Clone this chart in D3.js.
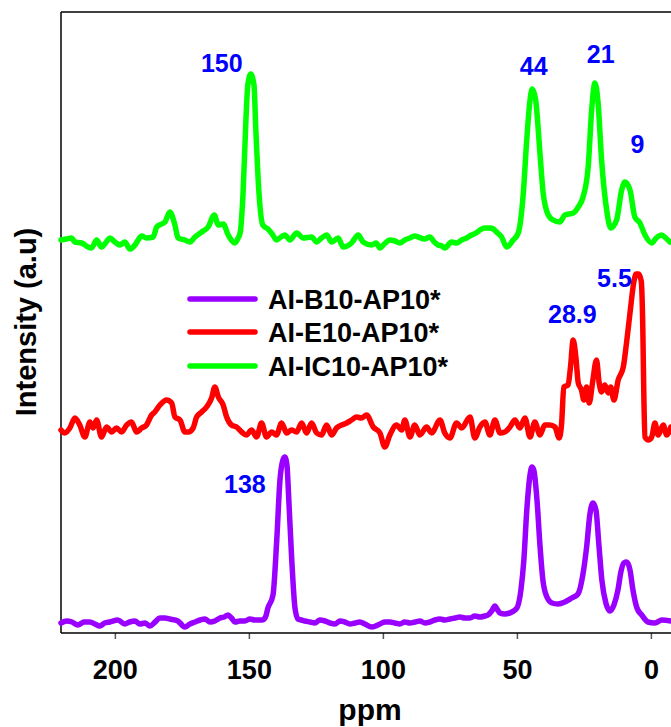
<!DOCTYPE html>
<html>
<head>
<meta charset="utf-8">
<script src="https://cdn.jsdelivr.net/npm/d3@7"></script>
<style>
body { margin: 0; background: #fff; }
text { font-family: Arial, "Liberation Sans", sans-serif; font-weight: bold; }
</style>
</head>
<body>
<svg id="chart" width="671" height="727"></svg>
<script>
// series: [ppm, intensity above own baseline]
var seriesNames = ["AI-B10-AP10*", "AI-E10-AP10*", "AI-IC10-AP10*"];
var seriesColors = ["#9900ff", "#ff0000", "#00ff00"];
var seriesOffsets = [10, 202, 393];

var specB = [[220.1,0],[218,2],[216,1],[213.8,-2],[211.5,1],[209.3,1],[207.5,-1],[205.6,-3],[203.8,0],[201.9,1],[198.9,3],[196.3,-1],[194.5,1],[192.5,2],[190.7,-1],[188.8,0],[186.9,-3],[185,1],[183.2,5],[181.3,5],[179.5,4],[176.5,2],[173.9,-4],[172,-1],[170.1,1],[168.2,3],[166.4,4],[164.5,1],[162.7,2],[160.8,5],[159.2,6],[157.8,8],[156.5,5],[155.2,1],[153.4,2],[151.5,2],[149.6,4],[147.8,3],[145.1,3],[143.8,6],[142.9,15],[141,28],[139.6,83],[138.4,143],[137.3,163],[136.6,166],[135.8,158],[135.1,123],[134,63],[132.8,15],[131.7,4],[130.4,3],[129.1,2],[127.2,1],[125.4,0],[123.5,3],[121.6,2],[119.7,0],[117.9,-1],[116,2],[114.2,1],[112.3,-1],[110.4,0],[108.6,1],[106.7,-1],[104.1,-4],[101.1,-1],[99.2,1],[97.4,1],[95.5,0],[93.7,-1],[91.8,1],[89.9,0],[88,1],[86.2,2],[84.3,0],[82.5,1],[80.6,3],[78.7,4],[76.9,3],[75,4],[73.1,5],[71.3,6],[69.4,5],[67.5,5],[65.7,7],[63.8,6],[62,7],[60.8,8],[59.4,12],[58.2,17],[57.2,13],[56.3,10],[54.5,9],[51.9,11],[50,15],[48.5,33],[47.4,63],[46.3,113],[45.1,148],[44.4,156],[43.7,153],[42.5,123],[41.4,78],[40.3,43],[38.8,26],[36.9,20],[34.7,19],[32.1,21],[29.5,25],[27.2,29],[25.4,48],[23.9,78],[22.8,108],[21.6,120],[20.5,113],[19.4,78],[18.3,43],[16.8,20],[15.3,12],[13.8,18],[12.3,33],[11.2,51],[10.1,60],[9,61],[7.8,53],[6.7,33],[5.2,15],[3.4,8],[1.1,1],[-1.5,0],[-4.1,3],[-7.5,2]];

var specE = [[220.1,1],[218.7,-2],[216.8,3],[214.9,13],[213.1,6],[211.2,-6],[209.3,9],[208.1,3],[206.8,11],[205,-6],[203.1,4],[201.2,-1],[199.4,3],[197.5,-1],[195.6,6],[193.8,9],[191.9,-1],[190,3],[188.2,6],[186.3,16],[185.1,19],[183.2,26],[180.7,31],[178.8,28],[177.6,14],[175.7,11],[173.9,-1],[172.6,-1],[170.8,3],[169.5,14],[167.6,19],[165.8,24],[163.9,33],[162.7,44],[161.4,34],[159.6,26],[158.3,14],[156.5,6],[154.6,4],[152.7,-1],[150.9,-4],[149,1],[147.1,-6],[145.3,8],[143.4,-6],[141.5,-1],[139.7,-4],[137.8,8],[135.9,-2],[134.1,1],[132.2,-1],[130.3,8],[128.5,-2],[126.6,8],[124.7,-2],[122.9,-4],[121,6],[119.1,-4],[117.3,3],[115.4,6],[113.5,8],[111.7,11],[109.8,14],[108,13],[106.1,16],[103.6,4],[101.1,-2],[99.3,-16],[97.4,-4],[94.9,6],[93,1],[91.8,11],[89.9,-6],[88.1,6],[86.2,-4],[83.7,4],[81.8,-2],[78.7,11],[76.9,-2],[75,-7],[72.5,8],[70.6,3],[67.5,14],[65.7,-7],[63.8,4],[61.9,9],[60.1,-4],[58.2,11],[56.3,-2],[54.5,-1],[52.6,4],[50.7,11],[48.9,3],[47,13],[45.1,-6],[43.3,9],[41.4,-4],[39.6,6],[37.7,6],[35.8,4],[34.2,-7],[33.3,8],[32.5,44],[30.9,46],[30,64],[29,91],[28,74],[27.1,48],[25.9,41],[25,31],[24,44],[23,28],[21.8,48],[20.3,71],[19.3,48],[18.4,39],[17.2,46],[15.9,38],[15,44],[13.8,31],[12.2,51],[10.3,64],[9.1,88],[7.8,118],[6.3,150],[5.5,157],[4.6,157],[3.6,150],[3,100],[2.6,30],[2.2,-6],[1,-9],[-0.3,-6],[-1.5,8],[-2.7,-4],[-4.6,6],[-5.9,-4],[-7.4,4]];

var specIC = [[220.1,0],[218.2,1],[216.2,2],[214.9,-2],[212.4,-3],[210,-7],[208.7,-8],[206.8,0],[205,-7],[203.2,-2],[201.9,2],[200,-2],[198.1,-5],[196.3,-2],[194.4,-9],[192.5,-5],[190,4],[188.2,2],[185.7,3],[184.4,13],[182.6,16],[181.3,18],[179.5,28],[177.6,15],[176.4,2],[173.9,0],[172,-2],[170.1,3],[167.6,8],[165.2,13],[162.9,25],[161.4,15],[159.6,16],[157.7,5],[155.2,-3],[154,2],[153.2,8],[152.2,45],[151.1,120],[150.4,155],[149.3,166],[148.1,155],[147.4,110],[146.3,50],[144.8,15],[142.9,11],[141.3,6],[139.7,0],[138,3],[136.6,5],[134.7,0],[132.2,7],[129.7,2],[126.6,3],[124.7,-2],[122.9,2],[121,5],[119.1,-2],[116.7,2],[114.8,-7],[111.7,-3],[109.2,5],[107.4,-2],[104.2,-5],[102.5,-3],[101.1,-8],[99.5,-4],[97.4,0],[95.5,-1],[93.7,-3],[91.8,0],[89.9,2],[88.2,4],[86.8,3],[84.5,1],[82.5,3],[80.8,-2],[79.4,-5],[78,-6],[76.9,-8],[74.4,-2],[72.5,-3],[70.6,0],[68.8,2],[66.9,5],[65.3,7],[63.8,10],[62,12],[60.1,12],[58.8,11],[57.6,8],[55.7,3],[53.8,-7],[51.4,0],[49.5,7],[47.6,47],[46.4,97],[45.1,140],[44.3,151],[43,140],[41.4,87],[40.2,47],[38.3,25],[36.5,20],[34,18],[32.1,25],[29,27],[27.1,33],[25.3,43],[23.4,73],[22.1,130],[20.9,157],[19.7,137],[18.4,80],[16.5,30],[15,12],[12.8,20],[10.9,50],[9.7,58],[7.8,50],[6,23],[4.1,17],[2.2,5],[-0.3,-3],[-2,2],[-4,5],[-5.5,2],[-7.1,-2]];

var xTicks = [200, 150, 100, 50, 0];

// peak annotations
var peakLabels = ["150", "44", "21", "9", "28.9", "5.5", "138"];
var peakLabelPpm = [160.1, 43.7, 18.7, 5.0, 29.3, 13.6, 151.5];
var peakLabelInt = [561, 558, 570, 480, 310, 346, 140];

var svg = d3.select("#chart");

var x = d3.scaleLinear().domain([220.1, -7.5]).range([61, 671]);
var y = d3.scaleLinear().domain([0, 621]).range([633, 12]);

function spectrumLine(offset) {
    return d3.line()
    .x(function(d) { return x(d[0]); })
    .y(function(d) { return y(d[1] + offset); })
    .curve(d3.curveMonotoneX);
}

// frame (right side is cut off in the original)
svg.append("line").attr("x1", 61).attr("x2", 671).attr("y1", y(621)).attr("y2", y(621))
.attr("stroke", "#000").attr("stroke-width", 1.5);
svg.append("line").attr("x1", 61).attr("x2", 61).attr("y1", y(621)).attr("y2", y(0))
.attr("stroke", "#000").attr("stroke-width", 1.5);

// x axis
var xAxis = svg.append("g")
.attr("transform", "translate(0," + y(0) + ")")
.call(d3.axisBottom(x).tickValues(xTicks).tickSize(6).tickFormat(d3.format("d")));
xAxis.select(".domain").remove();
xAxis.selectAll(".tick line").attr("stroke", "#555").attr("stroke-width", 1.5);
xAxis.selectAll(".tick text")
.attr("y", 46).attr("dy", null)
.attr("fill", "#000")
.style("font-size", "27px")
.style("font-family", "Arial, 'Liberation Sans', sans-serif")
.style("font-weight", "bold");
svg.append("line").attr("x1", 61).attr("x2", 671).attr("y1", y(0)).attr("y2", y(0))
.attr("stroke", "#000").attr("stroke-width", 1.5);

svg.append("text").attr("x", 370).attr("y", 720).attr("text-anchor", "middle")
.style("font-size", "30px").text("ppm");

svg.append("text").attr("transform", "translate(36,322) rotate(-90)")
.attr("text-anchor", "middle").style("font-size", "29px").text("Intensity (a.u)");

// spectra
var specs = [specB, specE, specIC];
[2, 1, 0].forEach(function(i) {
    svg.append("path")
    .datum(specs[i])
    .attr("fill", "none")
    .attr("stroke", seriesColors[i])
    .attr("stroke-width", 5.5)
    .attr("stroke-linejoin", "round")
    .attr("stroke-linecap", "round")
    .attr("d", spectrumLine(seriesOffsets[i]));
});

// peak labels
peakLabels.forEach(function(t, i) {
    svg.append("text")
    .attr("x", x(peakLabelPpm[i]))
    .attr("y", y(peakLabelInt[i]))
    .attr("text-anchor", "middle")
    .attr("fill", "#0000ff")
    .style("font-size", "25px")
    .text(t);
});

// legend
var legendY = [299, 332, 366];
seriesNames.forEach(function(n, i) {
    svg.append("line")
    .attr("x1", 190).attr("x2", 255)
    .attr("y1", legendY[i]).attr("y2", legendY[i])
    .attr("stroke", seriesColors[i])
    .attr("stroke-width", 5.5)
    .attr("stroke-linecap", "round");
    svg.append("text")
    .attr("x", 268).attr("y", legendY[i] + 10)
    .style("font-size", "27px")
    .text(n);
});
</script>
</body>
</html>
